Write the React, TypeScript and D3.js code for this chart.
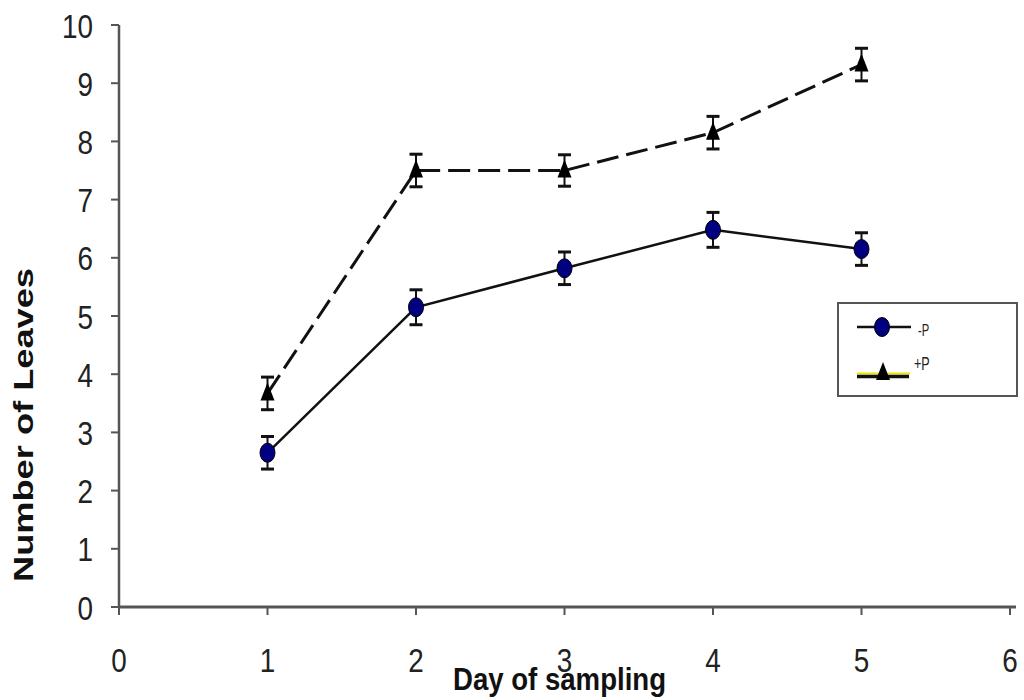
import React from "react";
import * as d3 from "d3";

const days = [1, 2, 3, 4, 5];
const minusP = [2.65, 5.15, 5.82, 6.48, 6.15];
const minusPErr = [0.28, 0.3, 0.28, 0.3, 0.28];
const plusP = [3.67, 7.5, 7.5, 8.15, 9.32];
const plusPErr = [0.28, 0.28, 0.27, 0.28, 0.28];
const xTicks = [0, 1, 2, 3, 4, 5, 6];
const yTicks = [0, 1, 2, 3, 4, 5, 6, 7, 8, 9, 10];

export default function App() {
  const x = d3.scaleLinear().domain([0, 6]).range([119, 1010]);
  const y = d3.scaleLinear().domain([0, 10]).range([607, 25]);
  const line = d3
    .line<number>()
    .x((_, i) => x(days[i]))
    .y((d) => y(d));
  const axisColor = "#555";
  const tickFont = "Liberation Sans, Arial, sans-serif";

  const errBar = (cx: number, v: number, e: number, key: string) => (
    <g key={key} stroke="#111" strokeWidth={2}>
      <line x1={cx} x2={cx} y1={y(v + e)} y2={y(v - e)} />
      <line x1={cx - 6.5} x2={cx + 6.5} y1={y(v + e)} y2={y(v + e)} strokeWidth={3} />
      <line x1={cx - 6.5} x2={cx + 6.5} y1={y(v - e)} y2={y(v - e)} strokeWidth={3} />
    </g>
  );

  const tri = (cx: number, cy: number) =>
    `M${cx},${cy - 11} L${cx + 7},${cy + 7} L${cx - 7},${cy + 7} Z`;

  return (
    <svg
      width={1024}
      height={700}
      style={{ position: "absolute", left: 0, top: 0, background: "#fff" }}
    >
      {/* axes */}
      <line x1={119} x2={119} y1={25} y2={607} stroke={axisColor} strokeWidth={2.5} />
      <line x1={119} x2={1016} y1={607} y2={607} stroke={axisColor} strokeWidth={3} />
      {yTicks.map((t) => (
        <g key={"yt" + t}>
          <line x1={111} x2={119} y1={y(t)} y2={y(t)} stroke={axisColor} strokeWidth={2} />
          <text
            transform={`translate(93,${y(t) + 12.5}) scale(0.82,1)`}
            textAnchor="end"
            fontFamily={tickFont}
            fontSize={34}
            fill="#222"
          >
            {t}
          </text>
        </g>
      ))}
      {xTicks.map((t) => (
        <g key={"xt" + t}>
          <line x1={x(t)} x2={x(t)} y1={607} y2={615} stroke={axisColor} strokeWidth={2} />
          <text
            transform={`translate(${x(t)},${672}) scale(0.82,1)`}
            textAnchor="middle"
            fontFamily={tickFont}
            fontSize={34}
            fill="#222"
          >
            {t}
          </text>
        </g>
      ))}

      {/* axis titles */}
      <text
        x={453}
        y={690}
        fontFamily={tickFont}
        fontWeight="bold"
        fontSize={31}
        textLength={213}
        lengthAdjust="spacingAndGlyphs"
        fill="#111"
      >
        Day of sampling
      </text>
      <text
        transform={`translate(33,582) rotate(-90)`}
        fontFamily={tickFont}
        fontWeight="bold"
        fontSize={28}
        textLength={314}
        lengthAdjust="spacingAndGlyphs"
        fill="#111"
      >
        Number of Leaves
      </text>

      {/* +P series dashed */}
      <path
        d={line(plusP) || ""}
        fill="none"
        stroke="#111"
        strokeWidth={3}
        strokeDasharray="22,8"
      />
      {/* -P series solid */}
      <path d={line(minusP) || ""} fill="none" stroke="#111" strokeWidth={2.5} />

      {plusP.map((v, i) => errBar(x(days[i]), v, plusPErr[i], "pe" + i))}
      {minusP.map((v, i) => errBar(x(days[i]), v, minusPErr[i], "me" + i))}

      {plusP.map((v, i) => (
        <path key={"pt" + i} d={tri(x(days[i]), y(v))} fill="#000" />
      ))}
      {minusP.map((v, i) => (
        <ellipse
          key={"mc" + i}
          cx={x(days[i])}
          cy={y(v)}
          rx={7.5}
          ry={9.5}
          fill="#000080"
          stroke="#000"
          strokeWidth={1}
        />
      ))}

      {/* legend */}
      <rect x={838} y={303} width={179} height={93} fill="#fff" stroke="#555" strokeWidth={2} />
      <line x1={857} x2={911} y1={327} y2={327} stroke="#111" strokeWidth={2.5} />
      <ellipse cx={882} cy={327} rx={7.5} ry={9.5} fill="#000080" stroke="#000" strokeWidth={1} />
      <text
        transform="translate(918,336) scale(0.7,1)"
        fontFamily={tickFont}
        fontSize={16}
        fill="#222"
      >
        -P
      </text>
      <line x1={857} x2={910} y1={373.5} y2={373.5} stroke="#e6e600" strokeWidth={2} />
      <line x1={857} x2={909} y1={376.5} y2={376.5} stroke="#111" strokeWidth={3.5} />
      <path d={tri(883, 373)} fill="#000" />
      <text
        transform="translate(914,370) scale(0.7,1)"
        fontFamily={tickFont}
        fontSize={18}
        fill="#222"
      >
        +P
      </text>
    </svg>
  );
}
